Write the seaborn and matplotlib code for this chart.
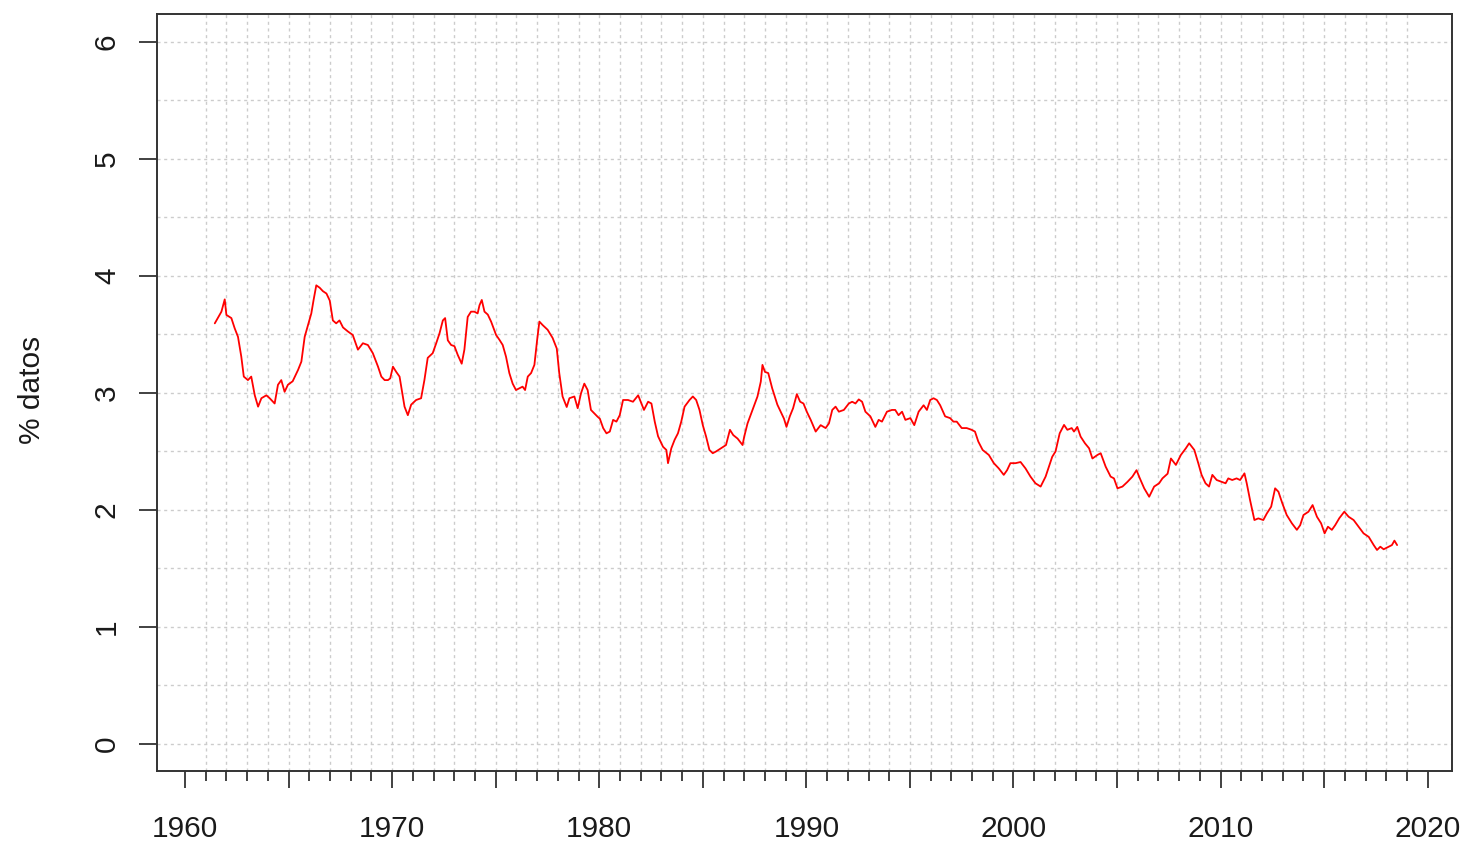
import matplotlib
matplotlib.use("Agg")
import matplotlib.pyplot as plt
import pandas as pd
import seaborn as sns

anio = [
    1961.44, 1961.76, 1961.92, 1962.00, 1962.24, 1962.40, 1962.56, 1962.72, 1962.84, 1963.04,
    1963.20, 1963.37, 1963.53, 1963.69, 1963.93, 1964.09, 1964.33, 1964.49, 1964.65, 1964.81,
    1964.97, 1965.20, 1965.46, 1965.62, 1965.78, 1965.94, 1966.10, 1966.21, 1966.34, 1966.50,
    1966.66, 1966.83, 1966.99, 1967.14, 1967.30, 1967.46, 1967.63, 1967.87, 1968.10, 1968.35,
    1968.59, 1968.83, 1969.07, 1969.32, 1969.48, 1969.64, 1969.80, 1969.91, 1970.04, 1970.20,
    1970.36,
    1970.60, 1970.76, 1970.92, 1971.16, 1971.40, 1971.56, 1971.72, 1971.96, 1972.13, 1972.29,
    1972.45, 1972.56, 1972.69, 1972.85, 1973.01, 1973.17, 1973.36, 1973.49, 1973.65, 1973.81,
    1973.97, 1974.13, 1974.22, 1974.33, 1974.46, 1974.62, 1974.78, 1975.02, 1975.18, 1975.34,
    1975.50, 1975.66, 1975.82, 1975.98, 1976.14, 1976.30, 1976.42, 1976.55, 1976.71, 1976.87,
    1977.00, 1977.11, 1977.27, 1977.51, 1977.75, 1977.95, 1978.07, 1978.23, 1978.43, 1978.56,
    1978.80, 1978.96, 1979.12, 1979.28, 1979.44, 1979.60, 1979.76, 1979.92,
    1980.03, 1980.19, 1980.35, 1980.51, 1980.67, 1980.83, 1980.99, 1981.15, 1981.39, 1981.63,
    1981.88, 1982.04, 1982.16, 1982.36, 1982.52, 1982.68, 1982.84, 1983.08, 1983.24, 1983.32,
    1983.48, 1983.64, 1983.80, 1983.96, 1984.12, 1984.36, 1984.52, 1984.68, 1984.84, 1985.00,
    1985.16, 1985.32, 1985.48, 1985.64, 1985.88, 1986.12, 1986.31, 1986.47, 1986.68, 1986.92,
    1987.00, 1987.16, 1987.40, 1987.64, 1987.80, 1987.88, 1988.00, 1988.16, 1988.35, 1988.60,
    1988.76, 1988.92, 1989.04, 1989.20, 1989.36,
    1989.54, 1989.70, 1989.86, 1990.02, 1990.21, 1990.45, 1990.69, 1990.93, 1991.09, 1991.25,
    1991.41, 1991.57, 1991.81, 1992.05, 1992.21, 1992.37, 1992.53, 1992.69, 1992.85, 1993.09,
    1993.33, 1993.49, 1993.65, 1993.89, 1994.13, 1994.29, 1994.45, 1994.62, 1994.78, 1995.02,
    1995.21, 1995.42, 1995.66, 1995.82, 1995.98, 1996.14, 1996.30, 1996.46, 1996.70, 1996.94,
    1997.10, 1997.26, 1997.50, 1997.74, 1997.98, 1998.14, 1998.30, 1998.51,
    1998.81, 1999.05, 1999.29, 1999.53, 1999.69, 1999.85, 2000.10, 2000.34, 2000.58, 2000.82,
    2001.06, 2001.31, 2001.55, 2001.71, 2001.87, 2002.03, 2002.23, 2002.44, 2002.60, 2002.81,
    2002.92, 2003.08, 2003.24, 2003.45, 2003.65, 2003.81, 2004.05, 2004.21, 2004.45, 2004.69,
    2004.85, 2005.02, 2005.26, 2005.50, 2005.74, 2005.94, 2006.10, 2006.31, 2006.55, 2006.79,
    2007.03, 2007.19, 2007.44, 2007.60, 2007.84, 2008.08, 2008.32, 2008.48, 2008.73,
    2008.92, 2009.08, 2009.27, 2009.44, 2009.60, 2009.81, 2010.05, 2010.24, 2010.37, 2010.56,
    2010.77, 2010.94, 2011.15, 2011.26, 2011.42, 2011.63, 2011.82, 2012.06, 2012.23, 2012.44,
    2012.63, 2012.79, 2012.98, 2013.19, 2013.44, 2013.68, 2013.84, 2014.00, 2014.24, 2014.44,
    2014.65, 2014.85, 2015.02, 2015.18, 2015.37, 2015.53, 2015.73, 2015.97, 2016.18, 2016.42,
    2016.66, 2016.90, 2017.15, 2017.39, 2017.55, 2017.71, 2017.87, 2018.11, 2018.27, 2018.39,
    2018.52,
]

pct = [
    3.595, 3.695, 3.80, 3.667, 3.64, 3.553, 3.48, 3.31, 3.14, 3.11,
    3.14, 2.98, 2.883, 2.955, 2.98, 2.955, 2.91, 3.07, 3.11, 3.01,
    3.07, 3.10, 3.197, 3.268, 3.48, 3.58, 3.68, 3.795, 3.92, 3.90,
    3.87, 3.85, 3.79, 3.62, 3.595, 3.62, 3.56, 3.525, 3.496, 3.37,
    3.425, 3.41, 3.34, 3.225, 3.14, 3.11, 3.11, 3.125, 3.225, 3.18,
    3.14,
    2.883, 2.81, 2.90, 2.94, 2.955, 3.11, 3.30, 3.34, 3.425, 3.51,
    3.62, 3.64, 3.45, 3.41, 3.40, 3.325, 3.25, 3.37, 3.65, 3.695,
    3.695, 3.68, 3.75, 3.795, 3.695, 3.67, 3.61, 3.496, 3.455, 3.41,
    3.31, 3.17, 3.08, 3.025, 3.04, 3.054, 3.025, 3.14, 3.17, 3.24,
    3.45, 3.61, 3.58, 3.54, 3.47, 3.38, 3.17, 2.97, 2.88, 2.955,
    2.97, 2.87, 2.997, 3.08, 3.025, 2.855, 2.826, 2.797,
    2.78, 2.70, 2.655, 2.67, 2.77, 2.755, 2.81, 2.94, 2.94, 2.925,
    2.98, 2.91, 2.855, 2.925, 2.91, 2.755, 2.63, 2.54, 2.513, 2.40,
    2.527, 2.60, 2.655, 2.755, 2.883, 2.94, 2.97, 2.94, 2.855, 2.725,
    2.627, 2.513, 2.485, 2.50, 2.527, 2.555, 2.685, 2.64, 2.61, 2.555,
    2.627, 2.74, 2.855, 2.97, 3.097, 3.24, 3.18, 3.17, 3.04, 2.90,
    2.84, 2.78, 2.71, 2.80, 2.87,
    2.99, 2.925, 2.91, 2.84, 2.77, 2.67, 2.725, 2.70, 2.74, 2.855,
    2.883, 2.84, 2.855, 2.91, 2.925, 2.91, 2.945, 2.925, 2.84, 2.80,
    2.71, 2.77, 2.755, 2.84, 2.855, 2.855, 2.81, 2.84, 2.77, 2.785,
    2.725, 2.84, 2.895, 2.855, 2.94, 2.955, 2.94, 2.895, 2.80, 2.785,
    2.755, 2.755, 2.70, 2.70, 2.685, 2.67, 2.585, 2.513,
    2.47, 2.40, 2.355, 2.30, 2.34, 2.40, 2.40, 2.41, 2.355, 2.285,
    2.228, 2.20, 2.285, 2.37, 2.455, 2.50, 2.655, 2.727, 2.685, 2.70,
    2.67, 2.71, 2.627, 2.57, 2.527, 2.44, 2.47, 2.485, 2.37, 2.285,
    2.27, 2.185, 2.20, 2.24, 2.285, 2.34, 2.27, 2.185, 2.113, 2.20,
    2.228, 2.27, 2.31, 2.44, 2.385, 2.47, 2.527, 2.57, 2.513,
    2.40, 2.30, 2.228, 2.20, 2.30, 2.256, 2.24, 2.228, 2.27, 2.256,
    2.27, 2.256, 2.313, 2.228, 2.085, 1.914, 1.928, 1.914, 1.97, 2.028,
    2.185, 2.156, 2.056, 1.957, 1.886, 1.83, 1.87, 1.957, 1.985, 2.042,
    1.942, 1.886, 1.80, 1.857, 1.83, 1.87, 1.93, 1.985, 1.942, 1.914,
    1.857, 1.80, 1.77, 1.70, 1.658, 1.686, 1.664, 1.686, 1.70, 1.738,
    1.70,
]

x_major = [1960, 1965, 1970, 1975, 1980, 1985, 1990, 1995, 2000, 2005, 2010, 2015, 2020]
x_labels = ["1960", "", "1970", "", "1980", "", "1990", "", "2000", "", "2010", "", "2020"]
x_minor = [y for y in range(1961, 2020) if y % 5 != 0]
grid_x = list(range(1961, 2020))
y_ticks = [0, 1, 2, 3, 4, 5, 6]
y_labels = ["0", "1", "2", "3", "4", "5", "6"]
grid_y = [0, 0.5, 1, 1.5, 2, 2.5, 3, 3.5, 4, 4.5, 5, 5.5, 6]

sns.set_style("white")
plt.rcParams["font.family"] = ["Liberation Sans", "DejaVu Sans"]

W, H = 1465, 841
fig = plt.figure(figsize=(W / 100, H / 100), dpi=100)
ax = fig.add_axes([157 / W, 1 - 771 / H, (1452 - 157) / W, (771 - 14) / H])

grid_kw = dict(color="#cccccc", lw=1.0, ls=(0, (2.2, 2.6)), zorder=0)
for gx in grid_x:
    ax.axvline(gx, **grid_kw)
for gy in grid_y:
    ax.axhline(gy, **grid_kw)

df = pd.DataFrame({"anio": anio, "pct": pct})
sns.lineplot(data=df, x="anio", y="pct", ax=ax, color="#ff0000", lw=1.3, zorder=3)

ax.set_xlim(1958.65, 2021.17)
ax.set_ylim(-0.231, 6.239)

ax.set_xticks(x_major)
ax.set_xticklabels(x_labels)
ax.set_xticks(x_minor, minor=True)
ax.set_yticks(y_ticks)
ax.set_yticklabels(y_labels, rotation=90, va="center")

spine_col = "#333333"
for s in ax.spines.values():
    s.set_visible(True)
    s.set_color(spine_col)
    s.set_linewidth(1.4)

ax.tick_params(axis="x", which="major", length=12.5, width=1.3, color=spine_col,
               labelsize=21.5, pad=19, labelcolor="#1a1a1a", direction="out", bottom=True)
ax.tick_params(axis="x", which="minor", length=7, width=1.3, color=spine_col,
               direction="out", bottom=True)
ax.tick_params(axis="y", which="major", length=13, width=1.3, color=spine_col,
               labelsize=21.5, pad=13, labelcolor="#1a1a1a", direction="out", left=True)

ax.set_xlabel("")
ax.set_ylabel("% datos", fontsize=21.5, color="#1a1a1a")
ax.yaxis.set_label_coords(-0.086, 0.503)

fig.savefig("out.png", dpi=100, facecolor="white")
